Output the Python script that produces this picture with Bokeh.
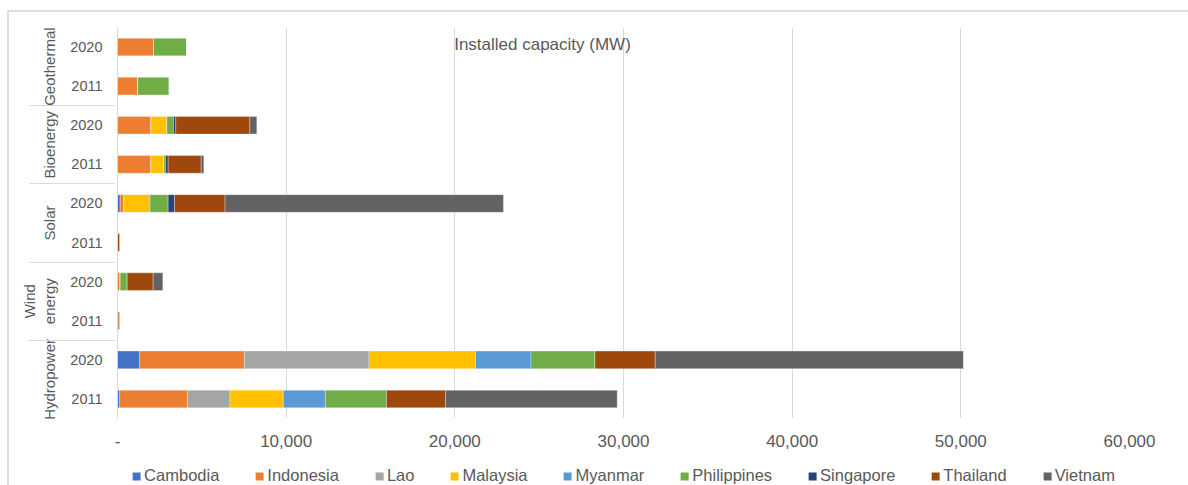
from bokeh.plotting import figure
from bokeh.layouts import column
from bokeh.models import (FactorRange, Range1d, FixedTicker,
                          NumeralTickFormatter, Legend, LegendItem,
                          ColumnDataSource, Label)
from bokeh.embed import file_html
from bokeh.resources import INLINE

# ---- data (MW) ----
countries = ["Cambodia", "Indonesia", "Lao", "Malaysia", "Myanmar",
             "Philippines", "Singapore", "Thailand", "Vietnam"]
colors = ["#4472C4", "#ED7D31", "#A5A5A5", "#FFC000", "#5B9BD5",
          "#70AD47", "#264478", "#9E480E", "#636363"]

technologies = ["Hydropower", "Wind\nenergy", "Solar", "Bioenergy", "Geothermal"]
years = ["2011", "2020"]

# values ordered: Hydro 2011, Hydro 2020, Wind 2011, Wind 2020, Solar 2011, Solar 2020,
#                 Bio 2011, Bio 2020, Geo 2011, Geo 2020
cambodia    = [130, 1316, 0, 0, 0, 158, 0, 0, 0, 0]
indonesia   = [4013, 6206, 0, 158, 0, 217, 1976, 1976, 1200, 2134]
lao         = [2525, 7390, 0, 0, 0, 0, 0, 0, 0, 0]
malaysia    = [3160, 6313, 0, 0, 0, 1502, 770, 948, 0, 0]
myanmar     = [2495, 3290, 0, 0, 0, 59, 0, 0, 0, 0]
philippines = [3622, 3794, 33, 415, 0, 1067, 99, 395, 1870, 1956]
singapore   = [0, 0, 0, 0, 0, 375, 158, 138, 0, 0]
thailand    = [3509, 3574, 60, 1541, 130, 3000, 1956, 4387, 0, 0]
vietnam     = [10172, 18263, 30, 573, 10, 16503, 158, 415, 0, 0]

x_ticks = [0, 10000, 20000, 30000, 40000, 50000, 60000]
title_text = "Installed capacity (MW)"

series = [cambodia, indonesia, lao, malaysia, myanmar, philippines, singapore, thailand, vietnam]

factors = [(t, y) for t in technologies for y in years]
data = {"cat": factors}
for c, s in zip(countries, series):
    data[c] = s
source = ColumnDataSource(data)

FONT = "Liberation Sans"
TXT = "#595959"
GRID = "#d9d9d9"

p = figure(width=1179, height=440,
           y_range=FactorRange(*factors, factor_padding=0, group_padding=0, range_padding=0),
           x_range=Range1d(x_ticks[0], x_ticks[-1]),
           output_backend="svg", toolbar_location=None,
           min_border_left=108, min_border_right=59, min_border_top=15, min_border_bottom=34)
p.outline_line_color = None

renderers = p.hbar_stack(countries, y="cat", height=0.45, color=colors, source=source,
                         line_color="white", line_width=0.6, line_alpha=0.5)

# x axis
xa = p.xaxis[0]
xa.ticker = FixedTicker(ticks=x_ticks)
xa.formatter = NumeralTickFormatter(format="0,0")
xa.major_label_overrides = {0: "-"}
xa.axis_line_color = None
xa.major_tick_line_color = None
xa.minor_tick_line_color = None
xa.major_label_text_font = FONT
xa.major_label_text_font_size = "17px"
xa.major_label_text_color = TXT
xa.major_label_standoff = 10

p.xgrid.ticker = FixedTicker(ticks=x_ticks)
p.xgrid.grid_line_color = GRID
p.ygrid.grid_line_color = None

# y (categorical) axis
ya = p.yaxis[0]
ya.axis_line_color = GRID
ya.major_tick_line_color = None
ya.minor_tick_line_color = None
ya.major_label_text_font = FONT
ya.major_label_text_font_size = "14.5px"
ya.major_label_text_color = TXT
ya.major_label_standoff = 9
ya.group_text_font = FONT
ya.group_text_font_size = "15px"
ya.group_text_font_style = "normal"
ya.group_text_color = TXT
ya.separator_line_color = GRID
ya.separator_line_width = 1

# title inside the plot area
p.add_layout(Label(x=425, y=374, x_units="screen", y_units="screen", text=title_text,
                   text_font=FONT, text_font_size="17px", text_color=TXT,
                   text_align="center", text_baseline="middle"))

# legend strip below the chart (its bars have no height and lie outside its visible x range)
p2 = figure(width=1179, height=33, output_backend="svg", toolbar_location=None,
            x_axis_location=None, y_axis_location=None,
            y_range=FactorRange(*factors), x_range=Range1d(1e7, 1e7 + 1),
            min_border_left=108, min_border_right=59, min_border_top=0, min_border_bottom=0)
p2.outline_line_color = None
p2.grid.visible = False
legend_renderers = p2.hbar_stack(countries, y="cat", height=0, fill_color=colors,
                                 line_color=None, source=source)

legend = Legend(items=[LegendItem(label=c, renderers=[r])
                       for c, r in zip(countries, legend_renderers)],
                orientation="horizontal", location="bottom_center")
legend.label_text_font = FONT
legend.label_text_font_size = "16.5px"
legend.label_text_color = TXT
legend.glyph_width = 10
legend.glyph_height = 10
legend.label_standoff = 3
legend.spacing = 35
legend.padding = 0
legend.margin = 0
legend.border_line_color = None
legend.background_fill_alpha = 0
p2.add_layout(legend)

root = column(p, p2, spacing=0, margin=(10, 0, 0, 7),
              styles={"border-top": "2px solid #dedede", "border-left": "2px solid #dedede"})

open("out.html", "w").write(file_html(root, INLINE))
